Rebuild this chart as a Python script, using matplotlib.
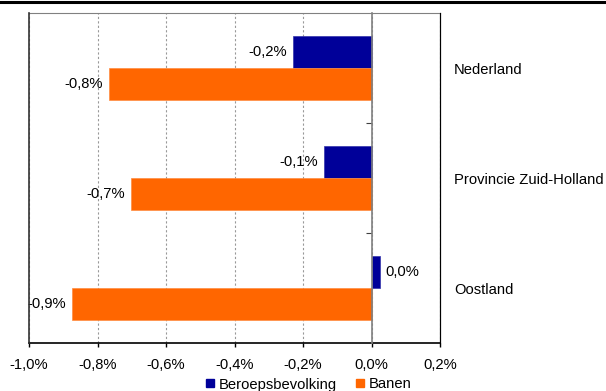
import matplotlib
matplotlib.use("Agg")
import matplotlib.pyplot as plt
from matplotlib.lines import Line2D
import numpy as np

plt.rcParams['font.family'] = ['Liberation Sans', 'DejaVu Sans']

categories = ["Nederland", "Provincie Zuid-Holland", "Oostland"]
beroepsbevolking = [-0.23, -0.138, 0.024]
banen = [-0.766, -0.702, -0.874]
series_names = ["Beroepsbevolking", "Banen"]
xticks = [-1.0, -0.8, -0.6, -0.4, -0.2, 0.0, 0.2]
xticklabels = ["-1,0%", "-0,8%", "-0,6%", "-0,4%", "-0,2%", "0,0%", "0,2%"]

BLUE = "#000099"
ORANGE = "#FF6600"
FS = 10.6

fig = plt.figure(figsize=(6.06, 3.91), dpi=100)
ax = fig.add_axes([29/606, 1-343/391, 411/606, 330/391])

pos = np.arange(len(categories))
h = 0.287
ax.barh(pos - h/2, beroepsbevolking, height=h, color=BLUE, edgecolor="#3333AA", linewidth=0.5,
        label=series_names[0], zorder=3)
ax.barh(pos + h/2, banen, height=h, color=ORANGE, edgecolor="#FF8C40", linewidth=0.5,
        label=series_names[1], zorder=3)

def fmt(v):
    return f"{v:.1f}".replace(".", ",") + "%"

for p, v in zip(pos - h/2, beroepsbevolking):
    ax.annotate(fmt(v), (v, p), xytext=(4.3 if v >= 0 else -4.3, 0), textcoords="offset points",
                ha="left" if v >= 0 else "right", va="center", fontsize=FS, zorder=4)
for p, v in zip(pos + h/2, banen):
    ax.annotate(fmt(v), (v, p), xytext=(4.3 if v >= 0 else -4.3, 0), textcoords="offset points",
                ha="left" if v >= 0 else "right", va="center", fontsize=FS, zorder=4)

ax.set_xlim(-1.0, 0.2)
ax.set_ylim(len(categories) - 0.5, -0.5)
ax.set_xticks(xticks)
ax.set_xticklabels(xticklabels, fontsize=FS)
ax.tick_params(axis="x", direction="out", length=3, width=1, pad=8, color="black")

# zero line as y-axis with ticks at category boundaries
ax.spines["left"].set_position(("data", 0))
ax.spines["left"].set_color("#808080")
ax.spines["left"].set_linewidth(1.2)
ax.spines["left"].set_zorder(5)
ax.set_yticks(pos[:-1] + 0.5)
ax.set_yticklabels([])
ax.tick_params(axis="y", direction="out", length=4, width=0.8, color="#404040")

ax.spines["top"].set_color("#808080")
ax.spines["bottom"].set_color("black")
ax.spines["bottom"].set_linewidth(1.2)
ax.spines["right"].set_color("black")
ax.plot([0, 0], [0, 1], transform=ax.transAxes, color="#333333", lw=1.2, clip_on=False, zorder=6)

ax.grid(axis="x", color="#999999", linestyle=(0, (2, 2)), linewidth=0.8, zorder=0)
ax.grid(axis="y", visible=False)

ax2 = ax.twinx()
ax2.set_ylim(ax.get_ylim())
ax2.set_yticks(pos)
ax2.set_yticklabels(categories, fontsize=FS)
ax2.tick_params(axis="y", length=0, pad=10)
for s in ["left", "top", "bottom"]:
    ax2.spines[s].set_visible(False)
ax2.spines["right"].set_color("black")

handles = [Line2D([], [], marker="s", linestyle="none", color=BLUE, markersize=5.5),
           Line2D([], [], marker="s", linestyle="none", color=ORANGE, markersize=5.5)]
fig.legend(handles, series_names, loc="center", bbox_to_anchor=(0.508, 1 - 384.5/391),
           ncol=2, frameon=False, fontsize=FS, handlelength=0.8, handletextpad=0.2,
           columnspacing=1.2, borderpad=0)

fig.add_artist(Line2D([0, 1], [1 - 2/391, 1 - 2/391], color="black", lw=2.2, transform=fig.transFigure))

fig.savefig("out.png", dpi=100)
